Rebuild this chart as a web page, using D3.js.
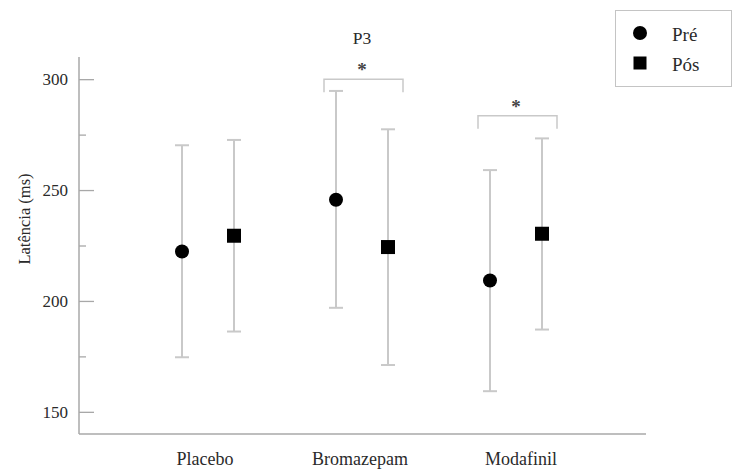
<!DOCTYPE html>
<html>
<head>
<meta charset="utf-8">
<script src="https://cdn.jsdelivr.net/npm/d3@7"></script>
<style>
  html, body { margin: 0; padding: 0; background: #fff; }
  svg { display: block; font-family: "Liberation Serif", "Times New Roman", serif; }
</style>
</head>
<body>
<svg id="chart" width="736" height="472"></svg>
<script>
const categories = ["Placebo", "Bromazepam", "Modafinil"];
const seriesNames = ["Pré", "Pós"];
const meanPre  = [222.3, 245.6, 209.2];
const upperPre = [270.2, 294.7, 259.0];
const lowerPre = [174.6, 196.9, 159.3];
const meanPos  = [229.4, 224.3, 230.3];
const upperPos = [272.6, 277.4, 273.3];
const lowerPos = [186.2, 171.1, 187.1];
const majorTicks = [150, 200, 250, 300];
const minorTicks = [175, 225, 275];
const sigCategories = ["Bromazepam", "Modafinil"];
const sigLevels = [300, 283.5];

const svg = d3.select("#chart");
const axisColor = "#a8a8a8";
const barColor = "#c9c9c9";
const textColor = "#2a2a2a";

const y = d3.scaleLinear().domain([140, 310]).range([434, 57]);
const x = d3.scalePoint().domain(categories).range([131, 593]).padding(0.5);
const xs = d3.scalePoint().domain(seriesNames).range([-26, 26]);
// the category labels in the original are set slightly off their group centres
const labelShift = {Placebo: -3, Bromazepam: -2, Modafinil: 5};

// axes lines
svg.append("line").attr("x1", 79).attr("x2", 79).attr("y1", 57).attr("y2", 434)
  .attr("stroke", axisColor).attr("stroke-width", 1.5);
svg.append("line").attr("x1", 79).attr("x2", 646).attr("y1", 434).attr("y2", 434)
  .attr("stroke", axisColor).attr("stroke-width", 1.5);

// y axis via d3.axisRight (ticks pointing inward)
const yAxis = svg.append("g").attr("transform", "translate(79,0)")
  .call(d3.axisRight(y).tickValues(majorTicks).tickSize(15).tickFormat(""));
yAxis.select(".domain").remove();
yAxis.selectAll("line").attr("stroke", axisColor).attr("stroke-width", 1.3);
const yMinor = svg.append("g").attr("transform", "translate(79,0)")
  .call(d3.axisRight(y).tickValues(minorTicks).tickSize(7).tickFormat(""));
yMinor.select(".domain").remove();
yMinor.selectAll("line").attr("stroke", axisColor).attr("stroke-width", 1.3);

svg.append("g").selectAll("text").data(majorTicks).join("text")
  .attr("x", 68).attr("y", d => y(d)).attr("dy", "0.35em")
  .attr("text-anchor", "end").attr("font-size", 17).attr("fill", textColor)
  .text(d => d);

// y label
svg.append("text").attr("transform", "translate(30,219) rotate(-90)")
  .attr("text-anchor", "middle").attr("font-size", 16.5).attr("fill", textColor)
  .text("Latência (ms)");

// x labels
svg.append("g").selectAll("text").data(categories).join("text")
  .attr("x", d => x(d) + labelShift[d]).attr("y", 465).attr("text-anchor", "middle")
  .attr("font-size", 18).attr("fill", textColor).text(d => d);

// title
svg.append("text").attr("x", 362).attr("y", 44).attr("text-anchor", "middle")
  .attr("font-size", 17.5).attr("fill", textColor).text("P3");

// data rows
const rows = [];
categories.forEach((c, i) => {
  rows.push({cat: c, s: "Pré", mean: meanPre[i], lo: lowerPre[i], hi: upperPre[i]});
  rows.push({cat: c, s: "Pós", mean: meanPos[i], lo: lowerPos[i], hi: upperPos[i]});
});
const cx = d => x(d.cat) + xs(d.s);

const eb = svg.append("g");
eb.selectAll("line.v").data(rows).join("line").attr("class", "v")
  .attr("x1", cx).attr("x2", cx).attr("y1", d => y(d.hi)).attr("y2", d => y(d.lo))
  .attr("stroke", barColor).attr("stroke-width", 2);
eb.selectAll("line.t").data(rows).join("line").attr("class", "t")
  .attr("x1", d => cx(d) - 7).attr("x2", d => cx(d) + 7)
  .attr("y1", d => y(d.hi)).attr("y2", d => y(d.hi))
  .attr("stroke", barColor).attr("stroke-width", 2);
eb.selectAll("line.b").data(rows).join("line").attr("class", "b")
  .attr("x1", d => cx(d) - 7).attr("x2", d => cx(d) + 7)
  .attr("y1", d => y(d.lo)).attr("y2", d => y(d.lo))
  .attr("stroke", barColor).attr("stroke-width", 2);

svg.append("g").selectAll("circle").data(rows.filter(d => d.s === "Pré")).join("circle")
  .attr("cx", cx).attr("cy", d => y(d.mean)).attr("r", 7).attr("fill", "#000");
svg.append("g").selectAll("rect").data(rows.filter(d => d.s === "Pós")).join("rect")
  .attr("x", d => cx(d) - 7).attr("y", d => y(d.mean) - 7)
  .attr("width", 14).attr("height", 14).attr("fill", "#000");

// significance brackets
sigCategories.forEach((c, i) => {
  const x1 = x(c) + xs("Pré") - 12, x2 = x(c) + xs("Pós") + 15;
  const yy = y(sigLevels[i]);
  svg.append("path")
    .attr("d", `M${x1},${yy + 13}V${yy}H${x2}V${yy + 13}`)
    .attr("fill", "none").attr("stroke", barColor).attr("stroke-width", 1.5);
  svg.append("text").attr("x", x(c)).attr("y", yy - 3)
    .attr("text-anchor", "middle").attr("font-size", 19).attr("font-weight", "bold")
    .attr("fill", "#444").text("*");
});

// legend
svg.append("rect").attr("x", 615.5).attr("y", 10.5).attr("width", 116).attr("height", 76)
  .attr("fill", "#fff").attr("stroke", "#c4c4c4").attr("stroke-width", 1);
svg.append("circle").attr("cx", 640).attr("cy", 33).attr("r", 7).attr("fill", "#000");
svg.append("rect").attr("x", 633.5).attr("y", 56.5).attr("width", 13).attr("height", 13).attr("fill", "#000");
svg.append("g").selectAll("text").data(seriesNames).join("text")
  .attr("x", 672).attr("y", (d, i) => 41 + i * 30)
  .attr("font-size", 19).attr("fill", textColor).text(d => d);
</script>
</body>
</html>
